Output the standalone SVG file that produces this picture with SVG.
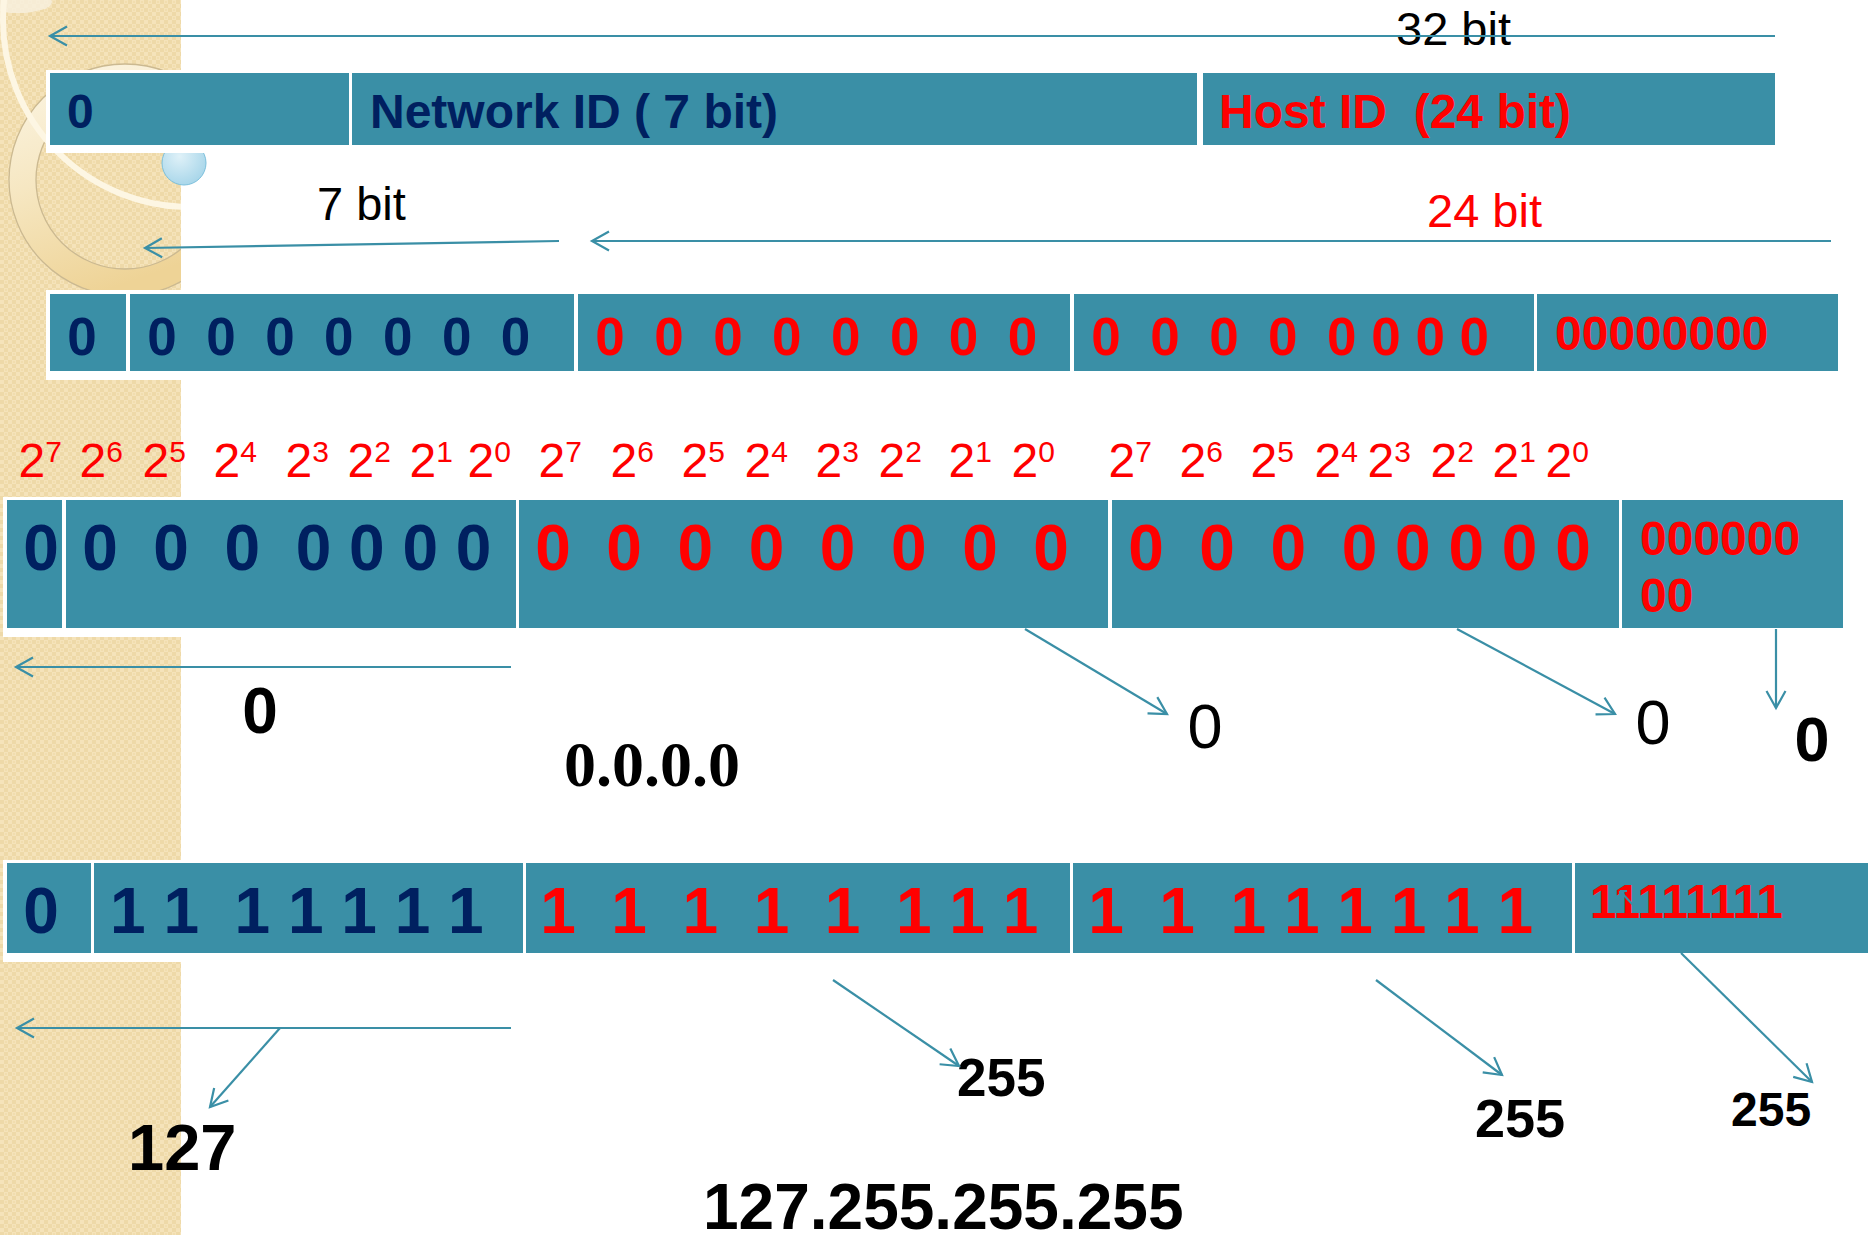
<svg xmlns="http://www.w3.org/2000/svg" width="1868" height="1235" viewBox="0 0 1868 1235">
<defs>
<style>
.cell{fill:#3a8fa6}
.back{fill:#ffffff}
.t{font-family:"Liberation Sans",Arial,sans-serif}
.s{font-family:"Liberation Serif","Times New Roman",serif}
.b{font-weight:bold}
.nv{fill:#002060}
.rd{fill:#ff0000}
.bk{fill:#000000}
.pre{white-space:pre}
.conn{fill:none;stroke:#3a8fa6;stroke-width:2.2;marker-end:url(#ah)}
.pw{font-family:"Liberation Sans",Arial,sans-serif;fill:#ff0000;font-size:48px}
.pw tspan{font-size:30px}
</style>
<marker id="ah" viewBox="-20 -12 22 24" refX="0" refY="0" markerWidth="22" markerHeight="24" markerUnits="userSpaceOnUse" orient="auto" overflow="visible">
<path d="M-17,-9.5 L0,0 L-17,9.5" fill="none" stroke="#3a8fa6" stroke-width="2.2"/>
</marker>
<pattern id="chk" width="8" height="8" patternUnits="userSpaceOnUse">
<rect width="8" height="8" fill="#f5e3ba"/>
<rect x="0" y="0" width="4" height="4" fill="#eed9a8"/>
<rect x="4" y="4" width="4" height="4" fill="#eed9a8"/>
<rect x="5" y="1" width="2" height="2" fill="#f1ddae"/>
</pattern>
<clipPath id="strip"><rect x="0" y="0" width="181" height="1235"/></clipPath>
<linearGradient id="ringg" x1="0" y1="0" x2="0.35" y2="1">
<stop offset="0" stop-color="#fcf6e6"/>
<stop offset="0.5" stop-color="#f6e7c2"/>
<stop offset="1" stop-color="#eed396"/>
</linearGradient>
<radialGradient id="dotg" cx="0.4" cy="0.35" r="0.7">
<stop offset="0" stop-color="#dff1f8"/>
<stop offset="1" stop-color="#a6d5e9"/>
</radialGradient>
</defs>

<rect x="0" y="0" width="1868" height="1235" fill="#ffffff"/>
<g id="background">
<rect x="0" y="0" width="181" height="1235" fill="url(#chk)"/>
<g clip-path="url(#strip)">
<ellipse cx="18" cy="2" rx="34" ry="11" fill="#f8f0e0" opacity="0.8"/>
<path d="M241,180 A116,116 0 1 0 9,180 A116,116 0 1 0 241,180 Z M214,180 A89,89 0 1 1 36,180 A89,89 0 1 1 214,180 Z" fill="url(#ringg)" fill-rule="evenodd" stroke="#cbb991" stroke-width="1.3"/>
<circle cx="190" cy="20" r="187" fill="none" stroke="#fdf6e3" stroke-width="6"/>
</g>
<circle cx="184" cy="163" r="22" fill="url(#dotg)" stroke="#7cc0dc" stroke-width="1"/>
</g>

<g id="backings">
<rect class="back" x="46" y="70" width="1734" height="83"/>
<rect class="back" x="46" y="290" width="1796" height="90"/>
<rect class="back" x="3" y="497" width="1845" height="140"/>
<rect class="back" x="3" y="860" width="1865" height="102"/>
</g>

<g id="row-a">
<g id="a1"><rect class="cell" x="50" y="73" width="299" height="72"/><text class="t b nv" x="67" y="128" font-size="48">0</text></g>
<g id="a2"><rect class="cell" x="352" y="73" width="845" height="72"/><text class="t b nv" x="370" y="128" font-size="48">Network ID ( 7 bit)</text></g>
<g id="a3"><rect class="cell" x="1203" y="73" width="572" height="72"/><text class="t b rd pre" xml:space="preserve" x="1219" y="128" font-size="48">Host ID  (24 bit)</text></g>
</g>

<g id="labels-top">
<text class="t bk" x="1396" y="45" font-size="47">32 bit</text>
<text class="t bk" x="317" y="220" font-size="47">7 bit</text>
<text class="t rd" x="1427" y="227" font-size="47">24 bit</text>
</g>

<g id="row-c">
<g id="c1"><rect class="cell" x="50" y="294" width="76" height="77"/><text class="t b nv" x="82" y="355" font-size="53" text-anchor="middle">0</text></g>
<g id="c2"><rect class="cell" x="130" y="294" width="444" height="77"/><text class="t b nv pre" xml:space="preserve" x="147.3" y="355" font-size="53">0  0  0  0  0  0  0</text></g>
<g id="c3"><rect class="cell" x="578" y="294" width="492" height="77"/><text class="t b rd pre" xml:space="preserve" x="595.3" y="355" font-size="53">0  0  0  0  0  0  0  0</text></g>
<g id="c4"><rect class="cell" x="1074" y="294" width="460" height="77"/><text class="t b rd pre" xml:space="preserve" x="1091.3" y="355" font-size="53">0  0  0  0  0 0 0 0</text></g>
<g id="c5"><rect class="cell" x="1537" y="294" width="301" height="77"/><text class="t b rd" x="1555" y="350" font-size="48">00000000</text></g>
</g>

<g id="powers">
<text class="pw" x="18.5" y="477">2<tspan dy="-15">7</tspan></text>
<text class="pw" x="79.5" y="477">2<tspan dy="-15">6</tspan></text>
<text class="pw" x="142.5" y="477">2<tspan dy="-15">5</tspan></text>
<text class="pw" x="213.5" y="477">2<tspan dy="-15">4</tspan></text>
<text class="pw" x="285.5" y="477">2<tspan dy="-15">3</tspan></text>
<text class="pw" x="347.5" y="477">2<tspan dy="-15">2</tspan></text>
<text class="pw" x="409.5" y="477">2<tspan dy="-15">1</tspan></text>
<text class="pw" x="467.5" y="477">2<tspan dy="-15">0</tspan></text>
<text class="pw" x="538.5" y="477">2<tspan dy="-15">7</tspan></text>
<text class="pw" x="610.5" y="477">2<tspan dy="-15">6</tspan></text>
<text class="pw" x="681.5" y="477">2<tspan dy="-15">5</tspan></text>
<text class="pw" x="744.5" y="477">2<tspan dy="-15">4</tspan></text>
<text class="pw" x="815.5" y="477">2<tspan dy="-15">3</tspan></text>
<text class="pw" x="878.5" y="477">2<tspan dy="-15">2</tspan></text>
<text class="pw" x="948.5" y="477">2<tspan dy="-15">1</tspan></text>
<text class="pw" x="1011.5" y="477">2<tspan dy="-15">0</tspan></text>
<text class="pw" x="1108.5" y="477">2<tspan dy="-15">7</tspan></text>
<text class="pw" x="1179.5" y="477">2<tspan dy="-15">6</tspan></text>
<text class="pw" x="1250.5" y="477">2<tspan dy="-15">5</tspan></text>
<text class="pw" x="1314.5" y="477">2<tspan dy="-15">4</tspan></text>
<text class="pw" x="1367.5" y="477">2<tspan dy="-15">3</tspan></text>
<text class="pw" x="1430.5" y="477">2<tspan dy="-15">2</tspan></text>
<text class="pw" x="1492.5" y="477">2<tspan dy="-15">1</tspan></text>
<text class="pw" x="1545.5" y="477">2<tspan dy="-15">0</tspan></text>
</g>

<g id="row-d">
<g id="d1"><rect class="cell" x="7" y="500" width="55" height="128"/><text class="t b nv" x="41" y="570" font-size="64" text-anchor="middle">0</text></g>
<g id="d2"><rect class="cell" x="66" y="500" width="450" height="128"/><text class="t b nv pre" xml:space="preserve" x="82.2" y="570" font-size="64">0  0  0  0 0 0 0</text></g>
<g id="d3"><rect class="cell" x="519" y="500" width="589" height="128"/><text class="t b rd pre" xml:space="preserve" x="535.2" y="570" font-size="64">0  0  0  0  0  0  0  0</text></g>
<g id="d4"><rect class="cell" x="1112" y="500" width="507" height="128"/><text class="t b rd pre" xml:space="preserve" x="1128.2" y="570" font-size="64">0  0  0  0 0 0 0 0</text></g>
<g id="d5"><rect class="cell" x="1622" y="500" width="221" height="128"/><text class="t b rd" x="1640" y="555" font-size="48">000000</text><text class="t b rd" x="1640" y="612" font-size="48">00</text></g>
</g>

<g id="labels-mid">
<text class="t b bk" x="260" y="733" font-size="64" text-anchor="middle">0</text>
<text class="s b bk" x="564" y="786" font-size="64">0.0.0.0</text>
<text class="t bk" x="1205" y="748" font-size="63" text-anchor="middle">0</text>
<text class="t bk" x="1653" y="744" font-size="63" text-anchor="middle">0</text>
<text class="t b bk" x="1812" y="761" font-size="63" text-anchor="middle">0</text>
</g>

<g id="row-f">
<g id="f1"><rect class="cell" x="7" y="863" width="84" height="90"/><text class="t b nv" x="41" y="933" font-size="64" text-anchor="middle">0</text></g>
<g id="f2"><rect class="cell" x="94" y="863" width="429" height="90"/><text class="t b nv pre" xml:space="preserve" x="110" y="933" font-size="64">1 1  1 1 1 1 1</text></g>
<g id="f3"><rect class="cell" x="526" y="863" width="544" height="90"/><text class="t b rd pre" xml:space="preserve" x="540.2" y="933" font-size="64">1  1  1  1  1  1 1 1</text></g>
<g id="f4"><rect class="cell" x="1073" y="863" width="499" height="90"/><text class="t b rd pre" xml:space="preserve" x="1088.2" y="933" font-size="64">1  1  1 1 1 1 1 1</text></g>
<g id="f5"><rect class="cell" x="1575" y="863" width="293" height="90"/><text class="t b rd" x="1590" y="918" font-size="47.5">11111111</text></g>
</g>

<g id="labels-bottom">
<text class="t b bk" x="128" y="1170" font-size="65">127</text>
<text class="t b bk" x="957" y="1096" font-size="53">255</text>
<text class="t b bk" x="1475" y="1137" font-size="54">255</text>
<text class="t b bk" x="1731" y="1126" font-size="48">255</text>
<text class="t b bk" x="703" y="1229" font-size="64">127.255.255.255</text>
</g>

<g id="connectors">
<path class="conn" d="M1775,36 L50,36"/>
<path class="conn" d="M559,241 L145,248"/>
<path class="conn" d="M1831,241 L592,241"/>
<path class="conn" d="M511,667 L16,667"/>
<path class="conn" d="M1025,629 L1167,714"/>
<path class="conn" d="M1457,629 L1615,714"/>
<path class="conn" d="M1776,629 L1776,708"/>
<path class="conn" d="M511,1028 L17,1028"/>
<path class="conn" d="M280,1028 L210,1107"/>
<path class="conn" d="M833,980 L959,1066"/>
<path class="conn" d="M1376,980 L1502,1075"/>
<path class="conn" d="M1681,953 L1812,1082"/>
<path d="M1634,906 L1620,891 M1620,891 L1620,898 M1620,891 L1627,891" fill="none" stroke="#3a8fa6" stroke-width="2"/>
</g>
</svg>
